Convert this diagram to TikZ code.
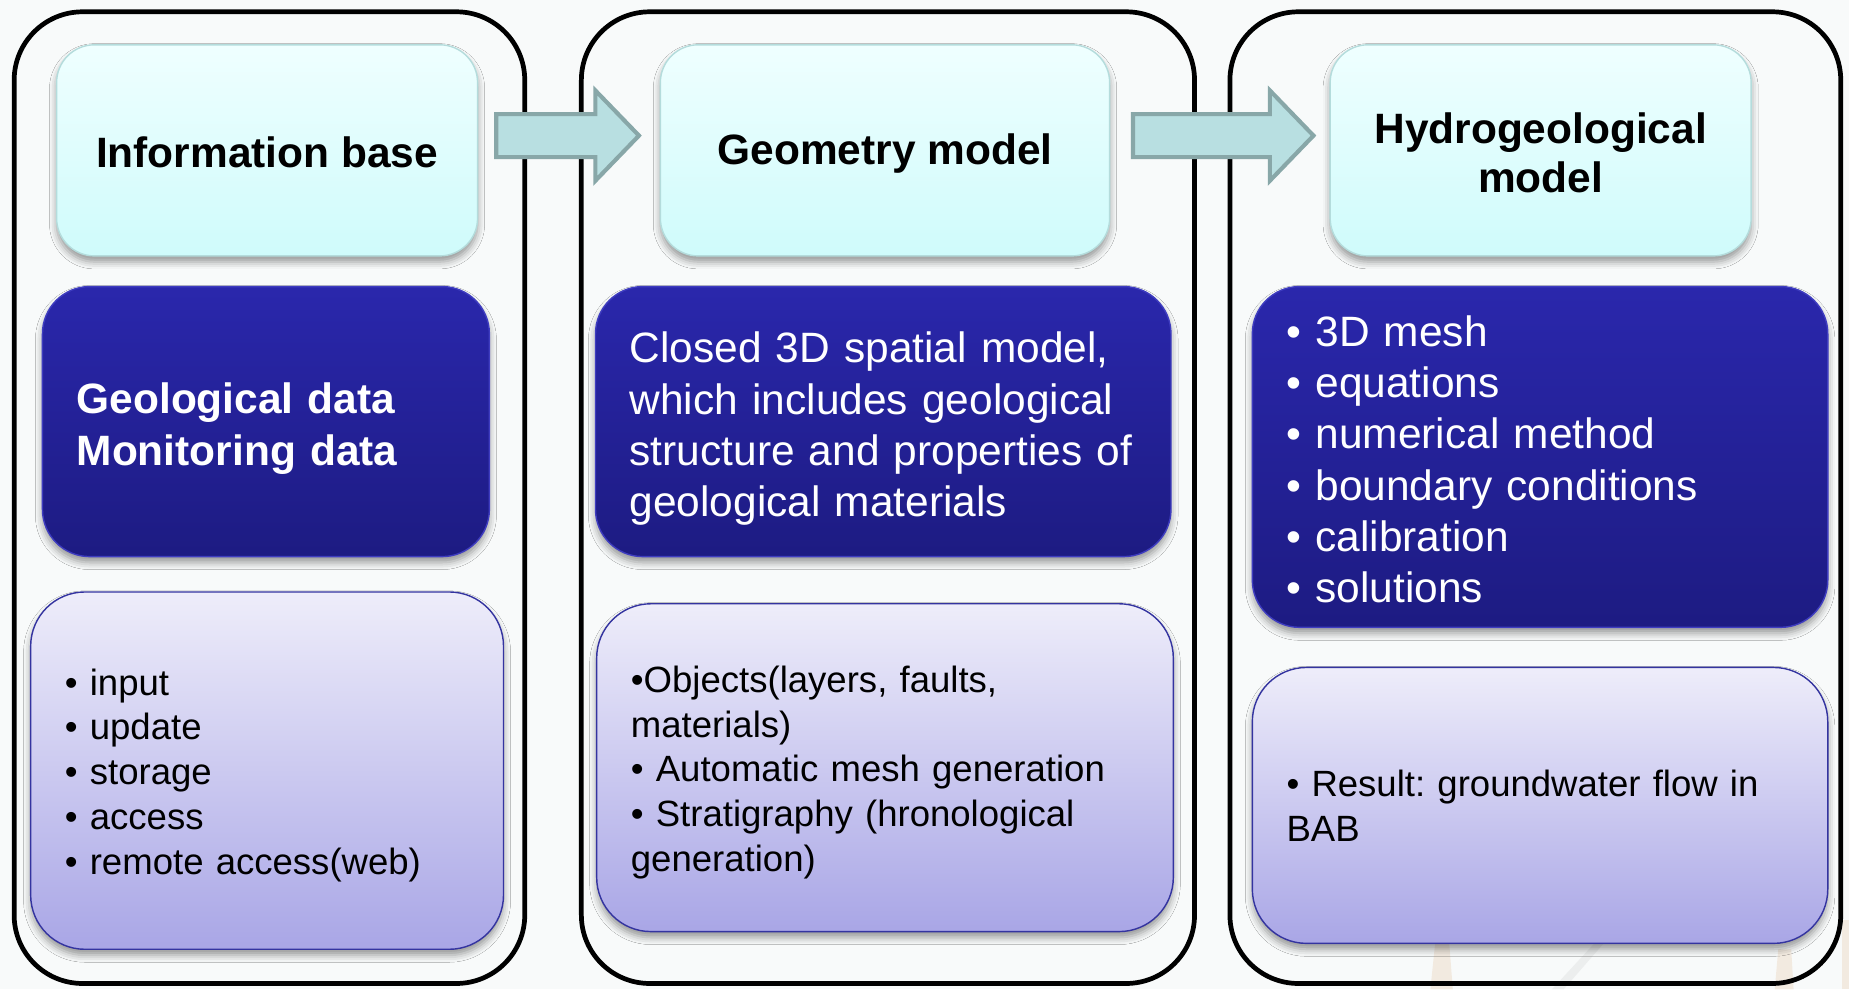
\documentclass[tikz,border=0pt]{standalone}
\usepackage{fontspec}
\setmainfont{Liberation Sans}
\frenchspacing
\usetikzlibrary{shapes.arrows,shadows.blur,calc}

\definecolor{pagebg}{HTML}{F8FAFA}
\definecolor{cyantop}{HTML}{EFFFFF}
\definecolor{cyanbot}{HTML}{CFFBFB}
\definecolor{cyanline}{HTML}{B4DCDC}
\definecolor{darktop}{HTML}{2A27AC}
\definecolor{darkbot}{HTML}{1D1B82}
\definecolor{darkline}{HTML}{3E3CC0}
\definecolor{lavtop}{HTML}{EEEDFA}
\definecolor{lavbot}{HTML}{A9A6E6}
\definecolor{lavline}{HTML}{3434A0}
\definecolor{arrowfill}{HTML}{B8DFE1}
\definecolor{arrowline}{HTML}{88A7A8}
\definecolor{faintan}{HTML}{E9CDB0}

\begin{document}
\begin{tikzpicture}[x=1pt,y=-1pt,
  panel/.style={rectangle, draw=black, line width=4pt, rounded corners=58pt,
    minimum height=824pt},
  boxshadow/.style={blur shadow={shadow xshift=0pt, shadow yshift=-5pt,
    shadow blur radius=6pt, shadow opacity=40}},
  titlebox/.style={rectangle, rounded corners=32pt, draw=cyanline, line width=1.2pt,
    top color=cyantop, bottom color=cyanbot, boxshadow, minimum height=179pt},
  titletext/.style={align=center, inner sep=0pt,
    font=\fontsize{36}{42}\selectfont\bfseries},
  darkbox/.style={rectangle, rounded corners=40pt, draw=darkline, line width=1.2pt,
    top color=darktop, bottom color=darkbot, boxshadow},
  darktext/.style={text=white, align=left, inner xsep=29pt, inner ysep=0pt,
    font=\fontsize{36}{43.4}\selectfont},
  lavbox/.style={rectangle, rounded corners=46pt, draw=lavline, line width=1.2pt,
    top color=lavtop, bottom color=lavbot, boxshadow},
  lavtext/.style={text=black, align=left, inner xsep=29pt, inner ysep=0pt,
    font=\fontsize{31}{38}\selectfont},
  blockarrow/.style={single arrow, draw=arrowline, fill=arrowfill, line width=3.5pt,
    inner xsep=0pt, inner ysep=16.5pt, anchor=tail,
    single arrow head extend=20pt, single arrow tip angle=92}
]
\fill[pagebg] (0,0) rectangle (1568,839);
\useasboundingbox (0,0) rectangle (1568,839);

% faint strokes of the backdrop picture, lower right
\fill[faintan, opacity=0.35] (1213,839) -- (1217,800) -- (1229,800) -- (1232,839) -- cycle;
\fill[gray!40, opacity=0.25] (1316,839) -- (1352,800) -- (1360,800) -- (1326,839) -- cycle;
\fill[faintan, opacity=0.35] (1505,839) -- (1508,805) -- (1519,805) -- (1521,839) -- cycle;
\fill[faintan, opacity=0.35] (1562,839) -- (1562,780) -- (1568,780) -- (1568,839) -- cycle;

% three stage frames
\node[panel, minimum width=433pt] (p1) at (228.5,422) {};
\node[panel, minimum width=520pt] (p2) at (753,422) {};
\node[panel, minimum width=518pt] (p3) at (1302,422) {};

% stage titles
\node[titlebox, minimum width=357pt] (t1) at (226.5,127.5) {};
\node[titlebox, minimum width=381pt] (t2) at (750.5,127.5) {};
\node[titlebox, minimum width=357pt] (t3) at (1306.5,127.5) {};
\node[titletext] (t1txt) at ([yshift=-2pt]t1.center) {Information base};
\node[titletext] (t2txt) at ([yshift=-3pt]t2.center) {Geometry model};
\node[titletext] (t3txt) at ([yshift=-2pt]t3.center) {Hydrogeological\\model};

% main content of each stage
\node[darkbox, minimum width=379pt, minimum height=229pt] (d1) at (225.5,357.5) {};
\node[darkbox, minimum width=488pt, minimum height=229pt] (d2) at (749,357.5) {};
\node[darkbox, minimum width=488pt, minimum height=289pt] (d3) at (1306,387.5) {};
\node[darktext, text width=321pt, font=\fontsize{36}{43.4}\selectfont\bfseries]
  (d1txt) at ([yshift=-6pt]d1.center) {Geological data\\Monitoring data};
\node[darktext, text width=430pt] (d2txt) at ([yshift=-6pt]d2.center)
  {Closed 3D spatial model,\\which includes geological\\structure and properties of\\geological materials};
\node[darktext, text width=430pt] (d3txt) at ([yshift=-2pt]d3.center)
  {• 3D mesh\\• equations\\• numerical method\\• boundary conditions\\• calibration\\• solutions};

% details of each stage
\node[lavbox, minimum width=401pt, minimum height=303pt] (l1) at (226.5,653.5) {};
\node[lavbox, minimum width=489pt, minimum height=278pt] (l2) at (750.5,651) {};
\node[lavbox, minimum width=488pt, minimum height=234pt] (l3) at (1306,683) {};
\node[lavtext, text width=343pt] (l1txt) at ([yshift=-4pt]l1.center)
  {• input\\• update\\• storage\\• access\\• remote access(web)};
\node[lavtext, text width=431pt] (l2txt) at ([yshift=-4pt]l2.center)
  {•Objects(layers, faults,\\materials)\\• Automatic mesh generation\\• Stratigraphy (hronological\\generation)};
\node[lavtext, text width=430pt] (l3txt) at ([yshift=0pt]l3.center)
  {• Result: groundwater flow in\\BAB};

% flow between stages
\node[blockarrow, minimum height=121pt] (a1) at ($(t1.east)+(13.5,-12.5)$) {};
\node[blockarrow, minimum height=153pt] (a2) at ($(t2.east)+(17.5,-12.5)$) {};
\end{tikzpicture}
\end{document}
